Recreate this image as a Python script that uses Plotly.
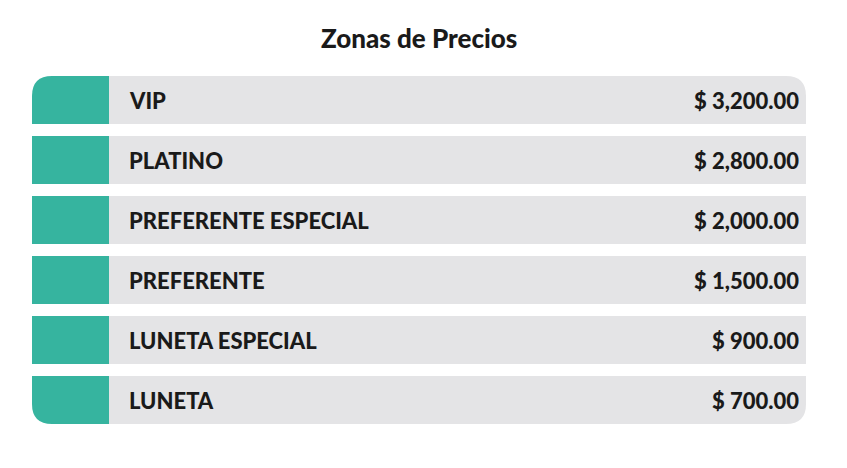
import plotly.graph_objects as go

title = "Zonas de Precios"
zones = ["VIP", "PLATINO", "PREFERENTE ESPECIAL", "PREFERENTE", "LUNETA ESPECIAL", "LUNETA"]
prices = [3200, 2800, 2000, 1500, 900, 700]

W, H = 847, 468
OFF = 8  # page body margin
X0, XS, X1 = 32, 109, 806
Y0, RH, GAP = 76, 48, 12
R = 20
TEAL = "#36b49f"
GRAY = "#e4e4e6"

def rect_path(x0, x1, y0, y1, tl=0, tr=0, br=0, bl=0):
    p = f"M {x0+tl},{y0} L {x1-tr},{y0} "
    p += f"Q {x1},{y0} {x1},{y0+tr} " if tr else ""
    p += f"L {x1},{y1-br} "
    p += f"Q {x1},{y1} {x1-br},{y1} " if br else ""
    p += f"L {x0+bl},{y1} "
    p += f"Q {x0},{y1} {x0},{y1-bl} " if bl else ""
    p += f"L {x0},{y0+tl} "
    p += f"Q {x0},{y0} {x0+tl},{y0} " if tl else ""
    return p + "Z"

fig = go.Figure()
shapes, ann = [], []
n = len(zones)
for i, (z, pr) in enumerate(zip(zones, prices)):
    y0 = Y0 + i * (RH + GAP)
    y1 = y0 + RH
    top = R if i == 0 else 0
    bot = R if i == n - 1 else 0
    shapes.append(dict(type="path", path=rect_path(X0, XS, y0, y1, tl=top, bl=bot),
                       fillcolor=TEAL, line_width=0, xref="x", yref="y"))
    shapes.append(dict(type="path", path=rect_path(XS, X1, y0, y1, tr=top, br=bot),
                       fillcolor=GRAY, line_width=0, xref="x", yref="y"))
    ym = (y0 + y1) / 2
    ann.append(dict(x=127, y=ym, text=z, xanchor="left", yanchor="middle", showarrow=False,
                    font=dict(family="Lato", size=22, color="#1a1a1a", weight=900)))
    ann.append(dict(x=801, y=ym, text=f"$ {pr:,.2f}", xanchor="right", yanchor="middle", showarrow=False,
                    font=dict(family="Lato", size=22, color="#1a1a1a", weight=900)))
ann.append(dict(x=419, y=38, text=title, xanchor="center", yanchor="middle", showarrow=False,
                font=dict(family="Lato", size=26, color="#1a1a1a", weight=900)))

fig.update_layout(width=W, height=H, margin=dict(l=0, r=0, t=0, b=0),
                  paper_bgcolor="white", plot_bgcolor="white",
                  xaxis=dict(range=[OFF, W + OFF], visible=False, fixedrange=True),
                  yaxis=dict(range=[H + OFF, OFF], visible=False, fixedrange=True),
                  shapes=shapes, annotations=ann, showlegend=False)
fig.write_html("out.html", config={"displayModeBar": False})
